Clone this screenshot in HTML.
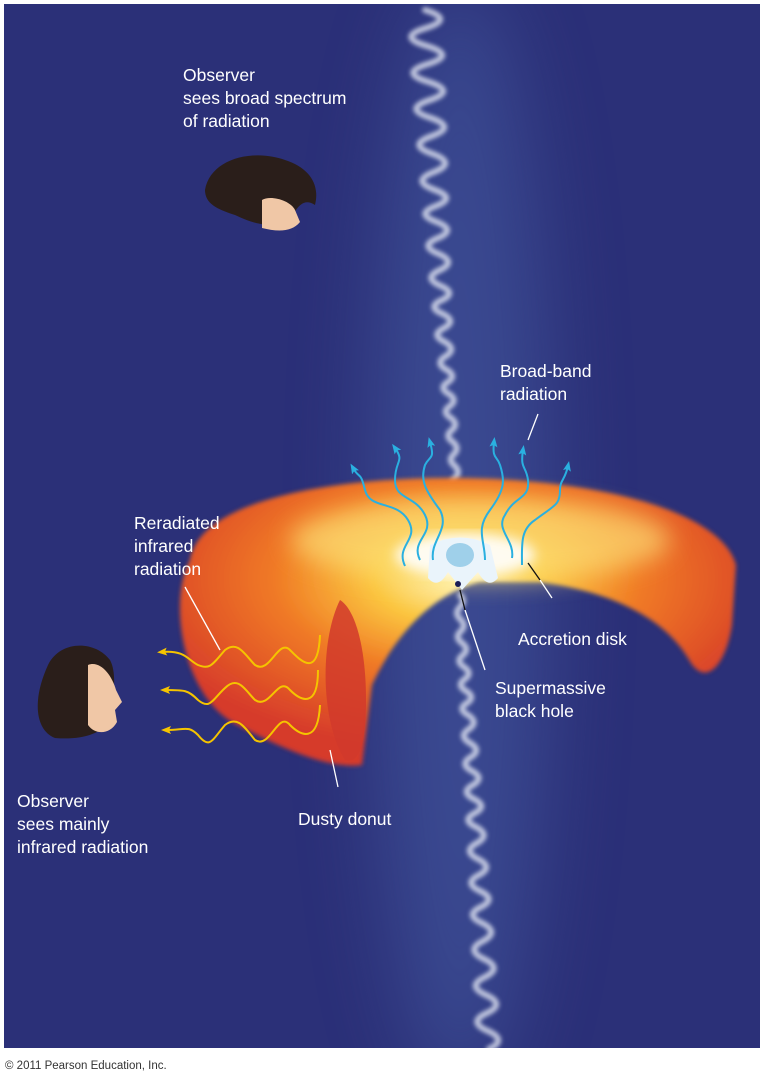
<!DOCTYPE html>
<html><head><style>
html,body{margin:0;padding:0;background:#fff;width:764px;height:1080px;overflow:hidden}
svg{display:block}
text{font-family:"Liberation Sans",Arial,sans-serif;fill:#fff;font-size:17.5px}
</style></head><body>
<svg width="764" height="1080" viewBox="0 0 764 1080" xmlns="http://www.w3.org/2000/svg">
<defs>
<filter id="b2" x="-20%" y="-5%" width="140%" height="110%"><feGaussianBlur stdDeviation="2"/></filter>
<filter id="b6"><feGaussianBlur stdDeviation="6"/></filter>
<filter id="b12" x="-50%" y="-50%" width="200%" height="200%"><feGaussianBlur stdDeviation="12"/></filter>
<filter id="b40" x="-100%" y="-30%" width="300%" height="160%"><feGaussianBlur stdDeviation="40"/></filter>
<clipPath id="pc"><rect x="4" y="4" width="756" height="1044"/></clipPath>
<radialGradient id="don" cx="0.5" cy="0.35" r="0.6">
<stop offset="0" stop-color="#fff7c0"/><stop offset="0.25" stop-color="#fbc640"/><stop offset="0.55" stop-color="#f07a25"/><stop offset="1" stop-color="#d63a2a"/>
</radialGradient>
<marker id="ab" markerUnits="userSpaceOnUse" markerWidth="10" markerHeight="10" refX="5" refY="5" orient="auto"><path d="M0,1 L10,5 L0,9 L2,5Z" fill="#2ab0e0"/></marker>
<marker id="ay" markerUnits="userSpaceOnUse" markerWidth="10" markerHeight="10" refX="5" refY="5" orient="auto"><path d="M0,1 L10,5 L0,9 L2,5Z" fill="#f5c400"/></marker>
</defs>
<rect x="4" y="4" width="756" height="1044" fill="#2b3078"/>
<g clip-path="url(#pc)">
<ellipse cx="460" cy="540" rx="90" ry="560" fill="#4a62a8" opacity="0.5" filter="url(#b40)"/>
<!-- jet -->
<g filter="url(#b2)" stroke="#e2e6f2" fill="none" stroke-linecap="round">
<path d="M425,10 q30,9 1,18 q-30,9 1,18 q30,9 1,18 q-30,9 1,18 q28,9 1,18 q-28,9 1,18 q26,9 1,18 q-26,9 1,18 q24,9 1,18 q-24,9 1,18 q22,8 1,16 q-22,8 1,16 q20,8 1,16 q-20,8 1,16 q18,8 1,16 q-18,8 1,16 q16,7 1,14 q-16,7 1,14 q14,7 1,14 q-14,7 1,14 q12,7 1,14 q-12,7 1,14 q10,6 1,12 q-10,6 1,12 q9,6 1,12 q-9,6 1,12 q8,6 1,12 q-8,6 1,12 q7,6 1,12 q-7,6 1,12 q6,6 0,12 q-6,6 0,12 q5,6 0,12 q-5,6 0,12 q4,6 0,12 q-4,6 0,12" stroke-width="6" opacity="0.8"/>
<path d="M460,595 q6,6 0,12 q-6,6 0,12 q7,6 1,12 q-7,6 1,12 q8,6 1,12 q-8,6 1,12 q9,6 1,12 q-9,6 1,12 q10,6 1,12 q-10,6 1,12 q11,7 1,14 q-11,7 1,14 q12,7 1,14 q-12,7 1,14 q13,7 1,14 q-13,7 1,14 q14,7 1,14 q-14,7 1,14 q15,8 1,16 q-15,8 1,16 q16,8 1,16 q-16,8 1,16 q17,8 1,16 q-17,8 1,16 q18,9 1,18 q-18,9 1,18 q19,9 1,18 q-19,9 1,18 q20,9 1,18 q-20,9 1,18 q20,9 1,18" stroke-width="6" opacity="0.8"/>
</g>
</g>
<!-- donut -->
<path d="M190,560 C200,500 330,478 450,478 C600,478 722,512 736,565 L732,625 C726,665 705,690 688,658 C660,612 600,590 540,582 L480,582 C440,592 400,625 372,685 L362,765 C330,770 280,748 232,722 C182,692 168,600 190,560 Z" fill="url(#don)" filter="url(#b2)"/>
<ellipse cx="480" cy="540" rx="190" ry="42" fill="#fde27a" opacity="0.65" filter="url(#b12)"/>
<ellipse cx="465" cy="555" rx="70" ry="22" fill="#ffffff" opacity="0.9" filter="url(#b6)"/>
<path d="M430,545 Q460,530 490,545 L498,578 Q488,590 478,572 L462,590 L448,572 Q438,590 428,578 Z" fill="#eaf4fb"/>
<ellipse cx="460" cy="555" rx="14" ry="12" fill="#9fd0ea"/>
<path d="M340,600 C320,640 320,720 345,760 C360,765 366,740 366,700 C366,650 356,610 340,600Z" fill="#d13a2c" opacity="0.85"/>
<circle cx="458" cy="584" r="3" fill="#1a1d55"/>
<!-- blue waves -->
<g stroke="#2ab0e0" stroke-width="2" fill="none" marker-end="url(#ab)">
<path d="M405,566 C395,545 420,540 408,520 C396,500 370,510 365,490 C360,470 360,480 353,468"/>
<path d="M420,560 C410,540 435,535 425,515 C415,495 395,500 395,480 C395,460 405,462 395,448"/>
<path d="M433,560 C430,540 450,530 440,510 C425,490 420,480 425,465 C430,455 435,460 430,442"/>
<path d="M485,560 C485,540 475,530 490,510 C505,490 505,480 500,465 C497,455 492,460 494,442"/>
<path d="M512,558 C515,540 495,530 505,515 C515,495 530,500 528,480 C526,465 520,470 523,450"/>
<path d="M522,565 C522,545 520,530 535,520 C555,505 560,505 560,490 C560,480 565,480 568,466"/>
</g>
<!-- yellow waves -->
<g stroke="#f5c400" stroke-width="2" fill="none" marker-end="url(#ay)">
<path d="M320,635 C318,680 300,660 290,650 C278,638 270,675 255,665 C245,655 238,640 225,650 C212,665 210,670 198,665 C188,660 185,650 162,652"/>
<path d="M318,670 C318,710 300,700 290,690 C278,675 270,710 255,700 C245,690 238,675 225,688 C212,700 210,710 198,700 C188,690 185,690 165,690"/>
<path d="M320,705 C318,745 300,735 290,725 C278,710 270,750 255,740 C245,728 238,715 225,725 C212,740 210,750 198,735 C188,725 185,730 166,730"/>
</g>
<!-- faces -->
<g>
<path d="M205,190 C210,160 250,148 285,160 C310,168 320,185 315,205 C300,195 295,215 288,220 C270,230 250,222 235,215 C220,210 205,205 205,190Z" fill="#2a1e1a"/>
<path d="M262,200 C270,195 290,200 295,210 L300,222 C292,232 278,232 262,228 Z" fill="#f0c7a6"/>
<path d="M48,665 C60,640 95,640 110,660 C118,675 112,700 112,720 C100,735 80,740 55,738 C35,730 32,700 48,665Z" fill="#2a1e1a"/>
<path d="M88,665 C100,660 112,675 116,690 L122,702 L115,710 L117,722 C110,735 95,735 88,725 Z" fill="#f0c7a6"/>
</g>
<!-- leader lines -->
<g stroke="#fff" stroke-width="1.3">
<line x1="538" y1="414" x2="528" y2="440"/>
<line x1="185" y1="587" x2="220" y2="650"/>
<line x1="338" y1="787" x2="330" y2="750"/>
<line x1="552" y1="598" x2="540" y2="580"/>
<line x1="485" y1="670" x2="465" y2="610"/>
</g>
<g stroke="#111" stroke-width="1.3">
<line x1="540" y1="580" x2="528" y2="563"/>
<line x1="465" y1="610" x2="460" y2="590"/>
</g>
<!-- labels -->
<text x="183" y="81">Observer</text>
<text x="183" y="104">sees broad spectrum</text>
<text x="183" y="127">of radiation</text>
<text x="500" y="377">Broad-band</text>
<text x="500" y="400">radiation</text>
<text x="134" y="529">Reradiated</text>
<text x="134" y="552">infrared</text>
<text x="134" y="575">radiation</text>
<text x="518" y="645">Accretion disk</text>
<text x="495" y="694">Supermassive</text>
<text x="495" y="717">black hole</text>
<text x="298" y="825">Dusty donut</text>
<text x="17" y="807">Observer</text>
<text x="17" y="830">sees mainly</text>
<text x="17" y="853">infrared radiation</text>
<text x="5" y="1069" style="fill:#333;font-size:11.5px">© 2011 Pearson Education, Inc.</text>
</svg>
</body></html>
